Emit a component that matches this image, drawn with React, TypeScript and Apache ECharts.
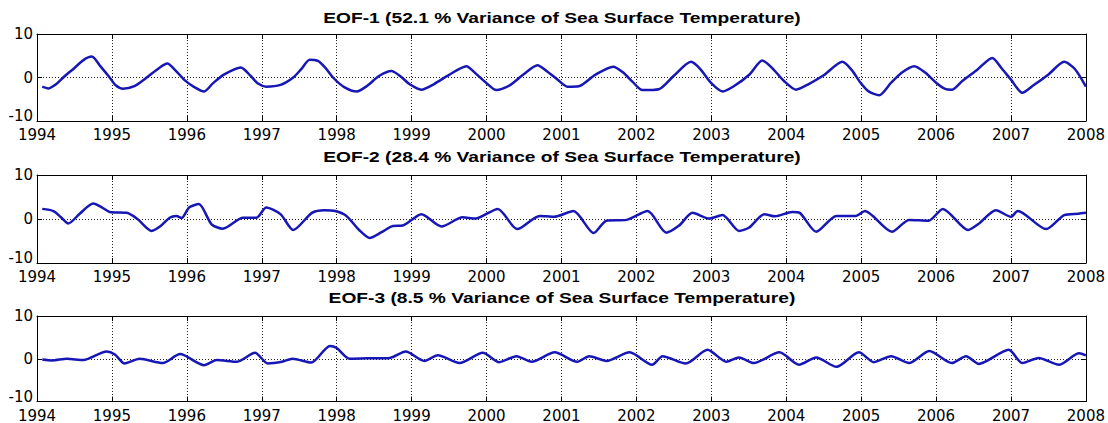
import React, { useEffect, useRef } from "react";
import * as echarts from "echarts";

const titles = [
  "EOF-1 (52.1 % Variance of Sea Surface Temperature)",
  "EOF-2 (28.4 % Variance of Sea Surface Temperature)",
  "EOF-3 (8.5 % Variance of Sea Surface Temperature)",
];

const xMin = 1994;
const xMax = 2008;
const yMin = -10;
const yMax = 10;

const t1 = [1994.07, 1994.15, 1994.25, 1994.35, 1994.5, 1994.62, 1994.73, 1994.85, 1994.97, 1995.05, 1995.15, 1995.3, 1995.45, 1995.6, 1995.74, 1995.85, 1995.97, 1996.1, 1996.23, 1996.35, 1996.5, 1996.72, 1996.85, 1996.95, 1997.06, 1997.25, 1997.42, 1997.53, 1997.64, 1997.75, 1997.85, 1997.95, 1998.1, 1998.27, 1998.4, 1998.57, 1998.73, 1998.85, 1998.97, 1999.13, 1999.3, 1999.5, 1999.73, 1999.85, 2000.0, 2000.13, 2000.3, 2000.5, 2000.68, 2000.8, 2000.95, 2001.08, 2001.23, 2001.45, 2001.69, 2001.82, 2001.95, 2002.08, 2002.3, 2002.5, 2002.73, 2002.85, 2003.0, 2003.15, 2003.3, 2003.51, 2003.68, 2003.8, 2003.97, 2004.13, 2004.3, 2004.5, 2004.75, 2004.87, 2005.0, 2005.1, 2005.24, 2005.4, 2005.55, 2005.71, 2005.85, 2006.0, 2006.12, 2006.21, 2006.35, 2006.55, 2006.75, 2006.88, 2007.0, 2007.15, 2007.3, 2007.5, 2007.71, 2007.85, 2008.0];
const v1 = [-2.1, -2.5, -1.6, 0.0, 2.2, 4.0, 4.8, 2.5, 0.0, -1.8, -2.6, -2.0, -0.2, 1.8, 3.2, 1.6, -0.6, -2.2, -3.2, -1.3, 0.7, 2.3, 0.4, -1.4, -2.1, -1.7, 0.0, 2.0, 4.1, 3.8, 2.2, 0.0, -2.2, -3.2, -2.0, 0.4, 1.5, 0.3, -1.5, -2.8, -1.5, 0.6, 2.6, 1.0, -1.3, -2.9, -1.9, 0.8, 2.8, 1.5, -0.5, -2.1, -2.0, 0.6, 2.5, 1.2, -1.0, -2.9, -2.7, 0.4, 3.6, 2.0, -1.3, -3.2, -2.0, 0.7, 3.9, 2.4, -0.8, -2.8, -1.5, 0.5, 3.6, 1.8, -1.4, -3.2, -4.1, -1.2, 1.2, 2.6, 1.2, -1.2, -2.6, -2.8, -0.8, 1.8, 4.5, 2.0, -0.5, -3.5, -1.8, 0.7, 3.6, 2.0, -2.1];

const t2 = [1994.07, 1994.22, 1994.32, 1994.42, 1994.57, 1994.75, 1994.87, 1994.97, 1995.2, 1995.34, 1995.53, 1995.65, 1995.77, 1995.86, 1995.93, 1996.03, 1996.16, 1996.33, 1996.48, 1996.75, 1996.93, 1997.06, 1997.25, 1997.42, 1997.67, 1997.84, 1997.98, 1998.13, 1998.3, 1998.44, 1998.6, 1998.75, 1998.88, 1999.13, 1999.4, 1999.68, 1999.85, 2000.15, 2000.41, 2000.71, 2000.9, 2001.16, 2001.43, 2001.6, 2001.87, 2002.15, 2002.4, 2002.57, 2002.75, 2002.97, 2003.15, 2003.37, 2003.5, 2003.71, 2003.85, 2004.08, 2004.18, 2004.4, 2004.67, 2004.93, 2005.05, 2005.41, 2005.64, 2005.9, 2006.09, 2006.43, 2006.56, 2006.8, 2007.0, 2007.09, 2007.47, 2007.71, 2007.9, 2008.0];
const v2 = [2.3, 1.8, 0.4, -1.0, 1.2, 3.5, 2.6, 1.6, 1.4, 0.0, -2.7, -1.6, 0.3, 0.7, 0.2, 2.6, 3.4, -1.2, -2.2, 0.3, 0.3, 2.6, 1.1, -2.5, 1.4, 2.0, 1.8, 0.7, -2.5, -4.3, -3.0, -1.6, -1.5, 1.1, -1.7, 0.4, 0.1, 2.3, -2.3, 0.7, 0.5, 1.8, -3.2, -0.4, -0.2, 1.8, -3.1, -1.5, 1.4, 0.1, 0.9, -2.7, -2.0, 1.1, 0.6, 1.6, 1.4, -2.9, 0.7, 0.7, 1.8, -2.9, -0.2, -0.4, 2.3, -2.5, -1.2, 2.0, 0.5, 1.8, -2.3, 0.9, 1.2, 1.4];

const t3 = [1994.07, 1994.2, 1994.4, 1994.62, 1994.93, 1995.04, 1995.17, 1995.37, 1995.68, 1995.91, 1996.23, 1996.4, 1996.67, 1996.91, 1997.08, 1997.27, 1997.41, 1997.66, 1997.91, 1998.0, 1998.17, 1998.4, 1998.71, 1998.92, 1999.17, 1999.35, 1999.64, 1999.95, 2000.17, 2000.4, 2000.6, 2000.91, 2001.21, 2001.37, 2001.6, 2001.91, 2002.21, 2002.35, 2002.66, 2002.95, 2003.2, 2003.37, 2003.57, 2003.91, 2004.17, 2004.4, 2004.67, 2004.97, 2005.17, 2005.4, 2005.64, 2005.91, 2006.21, 2006.4, 2006.57, 2006.97, 2007.15, 2007.37, 2007.64, 2007.91, 2008.0];
const v3 = [-0.2, -0.4, 0.0, -0.3, 1.7, 1.0, -1.1, 0.0, -1.0, 1.1, -1.5, -0.3, -0.7, 1.4, -1.1, -0.7, 0.0, -0.9, 3.0, 2.5, 0.0, 0.1, 0.2, 1.7, -0.5, 0.8, -1.0, 1.4, -0.8, 0.6, -0.7, 1.5, -0.7, 0.6, -0.5, 1.5, -1.4, 0.6, -1.1, 2.1, -0.7, 0.3, -1.0, 1.5, -1.4, 0.3, -1.9, 1.5, -0.8, 0.6, -1.0, 1.8, -1.0, 0.6, -1.2, 2.1, -1.0, 0.2, -1.4, 1.3, 0.8];

const times = [t1, t2, t3];
const values = [v1, v2, v3];

const gridTops = [34, 175, 316];
const gridHeights = [87, 88, 87];
const titleCenters = [18, 157, 298];

export default function App() {
  const ref = useRef<HTMLDivElement>(null);

  useEffect(() => {
    if (!ref.current) return;
    const chart = echarts.init(ref.current, null, { renderer: "svg" });
    const labelFont = "DejaVu Sans";
    const dotted = { color: "#222", width: 1, type: [1, 2] as any };

    const grid: any[] = [];
    const xAxis: any[] = [];
    const yAxis: any[] = [];
    const series: any[] = [];
    const graphic: any[] = [];

    for (let i = 0; i < 3; i++) {
      grid.push({ left: 37, right: 21, top: gridTops[i], height: gridHeights[i], containLabel: false });
      xAxis.push({
        type: "value", gridIndex: i, min: xMin, max: xMax, interval: 1, position: "bottom",
        axisLine: { show: true, onZero: false, lineStyle: { color: "#000", width: 1 } },
        axisTick: { show: true, inside: true, length: 5, lineStyle: { color: "#000" } },
        axisLabel: { show: true, color: "#000", fontFamily: labelFont, fontSize: 15, lineHeight: 12, margin: 8, formatter: (v: number) => String(v) },
        splitLine: { show: true, lineStyle: dotted },
      });
      xAxis.push({
        type: "value", gridIndex: i, min: xMin, max: xMax, interval: 1, position: "top",
        axisLine: { show: true, onZero: false, lineStyle: { color: "#000", width: 1 } },
        axisTick: { show: true, inside: true, length: 5, lineStyle: { color: "#000" } },
        axisLabel: { show: false },
        splitLine: { show: false },
      });
      yAxis.push({
        type: "value", gridIndex: i, min: yMin, max: yMax, interval: 10, position: "left",
        axisLine: { show: true, onZero: false, lineStyle: { color: "#000", width: 1 } },
        axisTick: { show: true, inside: true, length: 5, lineStyle: { color: "#000" } },
        axisLabel: {
          show: true, color: "#000", fontFamily: labelFont, fontSize: 15, lineHeight: 12, margin: 4,
          formatter: (v: number) => (v === yMin ? "{lo|" + v + "}" : String(v)),
          rich: { lo: { fontFamily: labelFont, fontSize: 15, lineHeight: 12, color: "#000", padding: [0, 0, 10, 0] } },
        },
        splitLine: { show: true, lineStyle: dotted },
      });
      yAxis.push({
        type: "value", gridIndex: i, min: yMin, max: yMax, interval: 10, position: "right",
        axisLine: { show: true, onZero: false, lineStyle: { color: "#000", width: 1 } },
        axisTick: { show: true, inside: true, length: 5, lineStyle: { color: "#000" } },
        axisLabel: { show: false },
        splitLine: { show: false },
      });
      series.push({
        type: "line",
        xAxisIndex: i * 2,
        yAxisIndex: i * 2,
        data: times[i].map((t, k) => [t, values[i][k]]),
        showSymbol: false,
        symbol: "none",
        smooth: 0.25,
        lineStyle: { color: "#1717b5", width: 2.5 },
      });
      graphic.push({
        type: "text",
        x: 562,
        y: titleCenters[i],
        scaleX: 1.28,
        style: {
          text: titles[i],
          fill: "#000",
          font: 'bold 15px "Liberation Sans", Arial, sans-serif',
          align: "center",
          verticalAlign: "middle",
        },
      });
    }

    chart.setOption({
      animation: false,
      backgroundColor: "#fff",
      grid, xAxis, yAxis, series, graphic,
    });
    return () => chart.dispose();
  }, []);

  return <div ref={ref} style={{ position: "absolute", left: 0, top: 0, width: 1108, height: 423 }} />;
}
